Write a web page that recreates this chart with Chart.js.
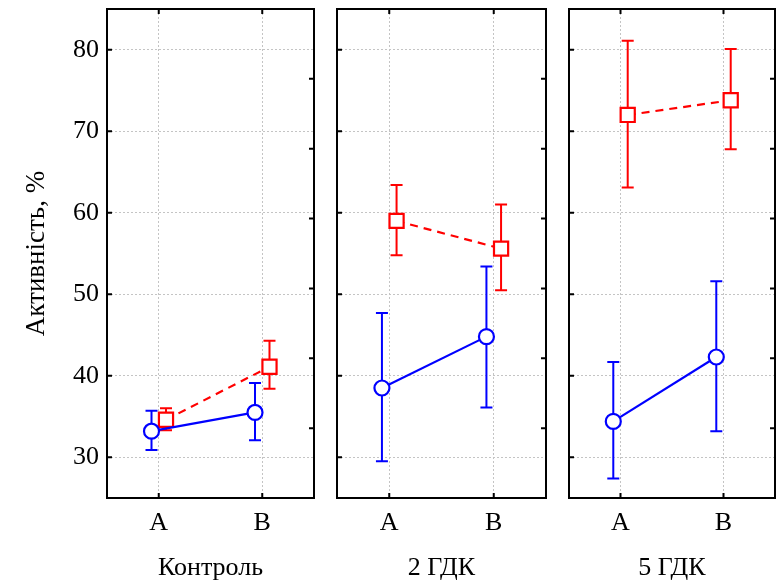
<!DOCTYPE html>
<html>
<head>
<meta charset="utf-8">
<script src="https://cdn.jsdelivr.net/npm/chart.js@4"></script>
<style>
  html, body { margin: 0; padding: 0; background: #fff; }
  #wrap { position: relative; width: 778px; height: 587px; }
  .panel { position: absolute; top: 0; height: 587px; }
</style>
</head>
<body>
<div id="wrap">
  <div class="panel" style="left:0;width:322px"><canvas id="c0"></canvas></div>
  <div class="panel" style="left:330px;width:222px"><canvas id="c1"></canvas></div>
  <div class="panel" style="left:562px;width:216px"><canvas id="c2"></canvas></div>
</div>
<script>
// дані
const categories = ['A', 'B'];
const groups = ['Контроль', '2 ГДК', '5 ГДК'];
const yTicks = [30, 40, 50, 60, 70, 80];

// синя серія (кола)
const blueMean = [[33.2, 35.5], [38.5, 44.8], [34.4, 42.3]];
const blueLow  = [[30.9, 32.1], [29.5, 36.1], [27.4, 33.2]];
const blueHigh = [[35.7, 39.1], [47.7, 53.4], [41.7, 51.6]];

// червона серія (квадрати)
const redMean = [[34.6, 41.1], [59.0, 55.6], [72.0, 73.8]];
const redLow  = [[33.3, 38.4], [54.8, 50.5], [63.1, 67.8]];
const redHigh = [[36.0, 44.3], [63.4, 61.0], [81.1, 80.1]];

const catPos = [1, 3];   // позиції категорій на осі x (0..4)
const FONT = 'Liberation Serif, Times New Roman, serif';

// вуса похибок
const errorBars = {
  id: 'errorBars',
  beforeDatasetsDraw(chart) {
    const c = chart.ctx;
    const y = chart.scales.y;
    chart.data.datasets.forEach((ds, di) => {
      const meta = chart.getDatasetMeta(di);
      c.save();
      c.strokeStyle = ds.borderColor;
      c.lineWidth = 2;
      meta.data.forEach((pt, i) => {
        const raw = ds.data[i];
        const yl = y.getPixelForValue(raw.yMin);
        const yh = y.getPixelForValue(raw.yMax);
        c.beginPath();
        c.moveTo(pt.x, yl); c.lineTo(pt.x, yh);
        c.moveTo(pt.x - 6, yl); c.lineTo(pt.x + 6, yl);
        c.moveTo(pt.x - 6, yh); c.lineTo(pt.x + 6, yh);
        c.stroke();
      });
      c.restore();
    });
  }
};

// рамка і внутрішні риски
const frame = {
  id: 'frame',
  afterDraw(chart) {
    const c = chart.ctx;
    const a = chart.chartArea;
    const {x, y, y2} = chart.scales;
    const L = 5;
    c.save();
    c.strokeStyle = '#000';
    c.lineWidth = 2;
    c.beginPath();
    catPos.forEach(v => {
      const px = x.getPixelForValue(v);
      c.moveTo(px, a.bottom); c.lineTo(px, a.bottom - L);
      c.moveTo(px, a.top); c.lineTo(px, a.top + L);
    });
    yTicks.forEach(v => {
      const py = y.getPixelForValue(v);
      c.moveTo(a.left, py); c.lineTo(a.left + L, py);
    });
    y2.ticks.forEach(t => {
      if (t.value <= y2.min || t.value >= y2.max) return;
      const py = y2.getPixelForValue(t.value);
      c.moveTo(a.right, py); c.lineTo(a.right - L, py);
    });
    c.stroke();
    c.strokeRect(a.left, a.top, a.right - a.left, a.bottom - a.top);
    c.restore();
  }
};

const layoutCfg = [
  { yWidth: 107, padRight: 8, showY: true },
  { yWidth: 7, padRight: 6, showY: false },
  { yWidth: 7, padRight: 3, showY: false },
];

const makePoints = (mean, low, high, g, shift) =>
  categories.map((_, i) => ({
    x: catPos[i] + shift,
    y: mean[g][i],
    yMin: low[g][i],
    yMax: high[g][i],
  }));

groups.forEach((name, g) => {
  const cfg = layoutCfg[g];
  new Chart(document.getElementById('c' + g), {
    type: 'line',
    plugins: [errorBars, frame],
    data: {
      datasets: [
        {
          data: makePoints(blueMean, blueLow, blueHigh, g, -0.14),
          borderColor: '#0000ff',
          backgroundColor: '#ffffff',
          borderWidth: 2.2,
          pointStyle: 'circle',
          pointRadius: 7.5,
          pointBorderWidth: 2.2,
        },
        {
          data: makePoints(redMean, redLow, redHigh, g, 0.14),
          borderColor: '#ff0000',
          backgroundColor: '#ffffff',
          borderWidth: 2.2,
          borderDash: [8, 6],
          pointStyle: 'rect',
          pointRadius: 10,
          pointBorderWidth: 2.2,
        },
      ],
    },
    options: {
      responsive: true,
      maintainAspectRatio: false,
      animation: false,
      layout: { autoPadding: false, padding: { top: 9, right: cfg.padRight, left: 0, bottom: 0 } },
      plugins: { legend: { display: false }, tooltip: { enabled: false } },
      scales: {
        x: {
          type: 'linear',
          min: 0,
          max: 4,
          afterBuildTicks: s => { s.ticks = catPos.map(v => ({ value: v })); },
          afterFit: s => { s.height = 89; s.paddingLeft = 0; s.paddingRight = 0; },
          ticks: {
            callback: (v) => categories[catPos.indexOf(v)],
            font: { family: FONT, size: 26 },
            color: '#000',
            padding: 10,
            maxRotation: 0,
          },
          grid: { color: '#c4c4c4', lineWidth: 1, drawTicks: false },
          border: { display: false, dash: [2, 2] },
          title: {
            display: true,
            text: name,
            font: { family: FONT, size: 26 },
            color: '#000',
            padding: { top: 0, bottom: 3 },
          },
        },
        y: {
          min: 25,
          max: 85,
          afterBuildTicks: s => { s.ticks = yTicks.map(v => ({ value: v })); },
          afterFit: s => { s.width = cfg.yWidth; s.paddingTop = 0; s.paddingBottom = 0; },
          ticks: {
            display: cfg.showY,
            font: { family: FONT, size: 26 },
            color: '#000',
            padding: 8,
          },
          grid: { color: '#c4c4c4', lineWidth: 1, drawTicks: false },
          border: { display: false, dash: [2, 2] },
          title: {
            display: cfg.showY,
            text: 'Активність, %',
            font: { family: FONT, size: 27 },
            color: '#000',
            padding: { top: 21, bottom: 0 },
          },
        },
        y2: {
          position: 'right',
          display: false,
          min: 0,
          max: 70,
          ticks: { stepSize: 10 },
        },
      },
    },
  });
});
</script>
</body>
</html>
